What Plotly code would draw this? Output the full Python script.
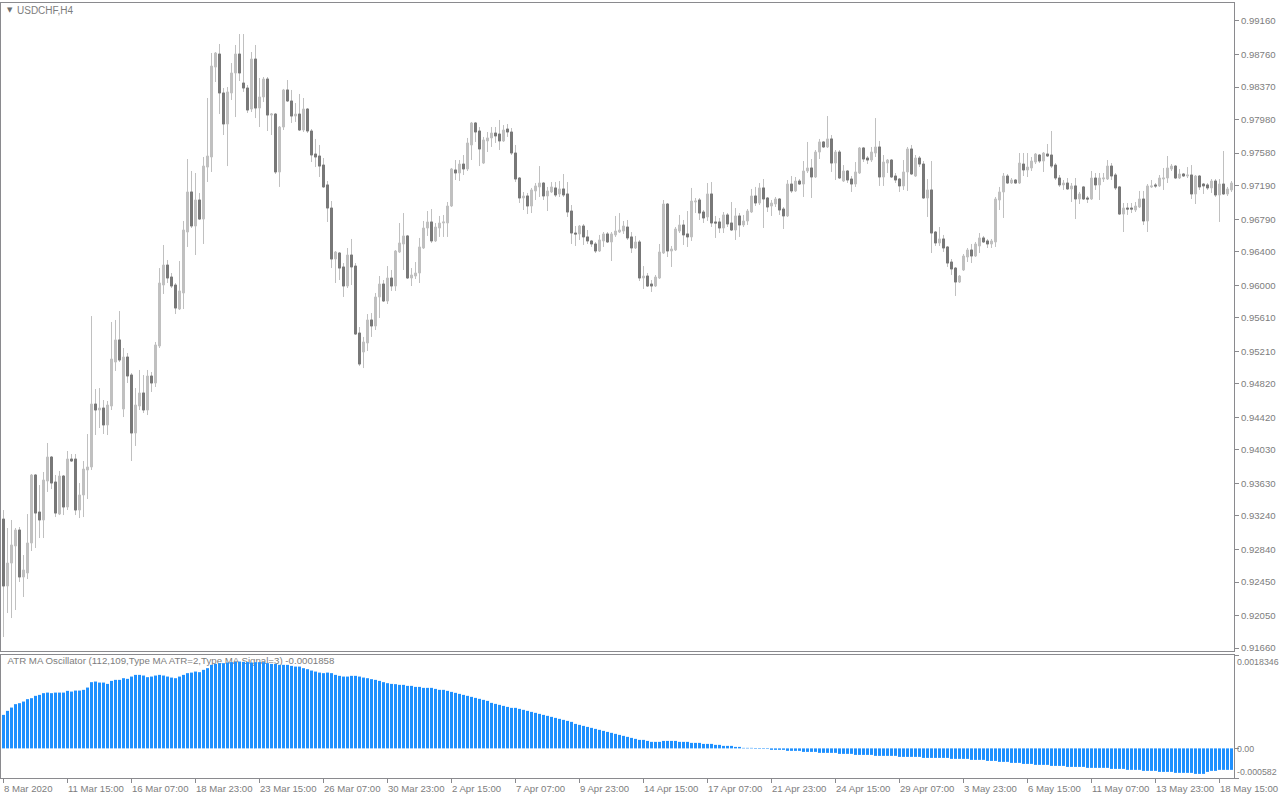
import plotly.graph_objects as go

symbol_title = "USDCHF,H4"
indicator_title = "ATR MA Oscillator (112,109,Type MA ATR=2,Type MA Signal=3) -0.0001858"

opens = [
0.93203,0.92402,0.92677,0.92881,0.93072,0.92510,0.92558,0.92917,0.93730,0.93287,
0.93192,0.93658,0.93945,0.93646,0.93263,0.93718,0.93347,0.93921,0.93921,0.93311,
0.93491,0.93790,0.93826,0.94579,0.94507,0.94531,0.94328,0.94555,0.95081,0.95345,
0.94519,0.95141,0.94926,0.94232,0.94555,0.94711,0.94507,0.94914,0.94830,0.95273,
0.96002,0.96241,0.96098,0.96002,0.95715,0.95907,0.96636,0.97115,0.96708,0.97019,
0.96791,0.97413,0.97533,0.98609,0.98765,0.98299,0.97928,0.98299,0.98538,0.98765,
0.98418,0.98358,0.98107,0.98705,0.98119,0.98251,0.98466,0.98035,0.98047,0.97354,
0.97892,0.98335,0.98203,0.98023,0.98047,0.97856,0.98107,0.97844,0.97569,0.97545,
0.97437,0.97199,0.96923,0.96313,0.96385,0.96218,0.95990,0.96361,0.96229,0.95428,
0.95201,0.95309,0.95584,0.95512,0.95859,0.96014,0.95811,0.96086,0.95990,0.96397,
0.96493,0.96589,0.96086,0.96110,0.96146,0.96445,0.96684,0.96756,0.96529,0.96684,
0.96744,0.96744,0.96947,0.97378,0.97342,0.97449,0.97390,0.97677,0.97940,0.97844,
0.97461,0.97725,0.97761,0.97820,0.97808,0.97725,0.97868,0.97832,0.97581,0.97282,
0.97043,0.97067,0.96947,0.97127,0.97175,0.97222,0.97067,0.97115,0.97163,0.97091,
0.97151,0.97091,0.96887,0.96624,0.96613,0.96708,0.96577,0.96529,0.96493,0.96409,
0.96529,0.96613,0.96517,0.96601,0.96636,0.96648,0.96696,0.96577,0.96445,0.96517,
0.96086,0.96110,0.96014,0.95990,0.96086,0.96385,0.96971,0.96409,0.96421,0.96648,
0.96720,0.96613,0.96577,0.96995,0.97019,0.96875,0.96816,0.97091,0.96756,0.96756,
0.96684,0.96840,0.96744,0.96660,0.96828,0.96720,0.96768,0.96875,0.97067,0.96983,
0.97163,0.97043,0.96947,0.96971,0.97031,0.96911,0.96828,0.97210,0.97127,0.97246,
0.97210,0.97366,0.97402,0.97294,0.97593,0.97713,0.97653,0.97749,0.97461,0.97593,
0.97246,0.97366,0.97270,0.97210,0.97342,0.97641,0.97521,0.97497,0.97581,0.97653,
0.97294,0.97461,0.97497,0.97306,0.97270,0.97187,0.97354,0.97629,0.97306,0.97521,
0.97449,0.97043,0.97139,0.96636,0.96505,0.96553,0.96457,0.96277,0.96205,0.96038,
0.96182,0.96337,0.96421,0.96349,0.96469,0.96565,0.96529,0.96493,0.96517,0.97019,
0.97115,0.97306,0.97222,0.97258,0.97222,0.97449,0.97378,0.97402,0.97473,0.97557,
0.97485,0.97569,0.97557,0.97437,0.97282,0.97199,0.97222,0.97151,0.97187,0.97031,
0.97175,0.97043,0.97031,0.97282,0.97199,0.97270,0.97270,0.97425,0.97318,0.97175,
0.96851,0.96923,0.96923,0.96899,0.96935,0.97031,0.96768,0.97175,0.97199,0.97187,
0.97270,0.97282,0.97390,0.97425,0.97282,0.97330,0.97306,0.97318,0.97091,0.97306,
0.97210,0.97199,0.97163,0.97246,0.97079,0.97210,0.97091,0.97139]

highs = [
0.93311,0.93096,0.93192,0.93096,0.93108,0.92773,0.93263,0.93742,0.93742,0.93610,
0.93766,0.94113,0.93957,0.93730,0.93778,0.93730,0.94017,0.93981,0.93981,0.93634,
0.93897,0.94220,0.95631,0.94758,0.94770,0.94627,0.94615,0.95560,0.95584,0.95691,
0.95249,0.95189,0.94950,0.94770,0.94986,0.94926,0.94986,0.94962,0.95321,0.96205,
0.96481,0.96301,0.96146,0.96026,0.96289,0.96768,0.97509,0.97366,0.97342,0.97103,
0.97533,0.98239,0.98777,0.98789,0.98885,0.98358,0.98370,0.98657,0.98873,0.99004,
0.99004,0.98394,0.98789,0.98873,0.98478,0.98490,0.98490,0.98059,0.98059,0.97904,
0.98347,0.98454,0.98335,0.98179,0.98287,0.98239,0.98119,0.97868,0.97749,0.97677,
0.97521,0.97246,0.97007,0.96409,0.96397,0.96265,0.96445,0.96553,0.96265,0.95500,
0.95381,0.95655,0.95667,0.95907,0.96110,0.96062,0.96229,0.96182,0.96421,0.96744,
0.96863,0.96601,0.96205,0.96277,0.96565,0.96768,0.96887,0.96911,0.96744,0.96828,
0.96840,0.96995,0.97402,0.97497,0.97497,0.97557,0.97761,0.97952,0.97952,0.97892,
0.97773,0.97832,0.97892,0.97892,0.97976,0.97916,0.97928,0.97880,0.97677,0.97294,
0.97115,0.97103,0.97163,0.97222,0.97425,0.97234,0.97175,0.97234,0.97234,0.97246,
0.97330,0.97234,0.96959,0.96708,0.96720,0.96732,0.96660,0.96541,0.96517,0.96601,
0.96636,0.96636,0.96636,0.96828,0.96863,0.96768,0.96780,0.96636,0.96589,0.96541,
0.96229,0.96146,0.96062,0.96122,0.96493,0.97019,0.96983,0.96469,0.96696,0.96840,
0.96780,0.96887,0.97163,0.97043,0.97043,0.96899,0.97222,0.97234,0.96828,0.96804,
0.96875,0.96863,0.96995,0.96923,0.96863,0.96840,0.96911,0.97151,0.97175,0.97222,
0.97270,0.97055,0.97019,0.97055,0.97043,0.96935,0.97258,0.97306,0.97294,0.97270,
0.97485,0.97713,0.97509,0.97617,0.97749,0.97725,0.98023,0.97796,0.97617,0.97617,
0.97437,0.97378,0.97306,0.97473,0.97653,0.97653,0.97545,0.97653,0.97999,0.97725,
0.97557,0.97509,0.97509,0.97342,0.97282,0.97497,0.97653,0.97677,0.97557,0.97545,
0.97485,0.97270,0.97485,0.96648,0.96696,0.96601,0.96469,0.96313,0.96218,0.96122,
0.96373,0.96445,0.96493,0.96517,0.96624,0.96589,0.96553,0.96553,0.97055,0.97175,
0.97342,0.97330,0.97282,0.97270,0.97581,0.97581,0.97581,0.97533,0.97581,0.97569,
0.97593,0.97689,0.97844,0.97461,0.97318,0.97258,0.97282,0.97222,0.97282,0.97115,
0.97187,0.97067,0.97366,0.97342,0.97342,0.97342,0.97497,0.97461,0.97342,0.97187,
0.96983,0.96983,0.96983,0.96995,0.97127,0.97127,0.97210,0.97258,0.97222,0.97318,
0.97402,0.97545,0.97449,0.97437,0.97390,0.97342,0.97413,0.97437,0.97318,0.97318,
0.97222,0.97222,0.97270,0.97270,0.97270,0.97605,0.97175,0.97246]

lows = [
0.91792,0.92079,0.92019,0.92115,0.92450,0.92271,0.92486,0.92821,0.92857,0.92976,
0.92976,0.93527,0.93562,0.93227,0.93251,0.93251,0.93311,0.93885,0.93251,0.93215,
0.93227,0.93443,0.93790,0.94208,0.94292,0.94220,0.94208,0.94507,0.94974,0.95081,
0.94423,0.94830,0.93897,0.94077,0.94507,0.94471,0.94447,0.94723,0.94782,0.95249,
0.95895,0.96026,0.95966,0.95655,0.95703,0.95715,0.96457,0.96684,0.96361,0.96780,
0.96493,0.97234,0.97354,0.98430,0.98047,0.97796,0.97425,0.98215,0.98011,0.98442,
0.98311,0.98059,0.98071,0.97999,0.97892,0.98191,0.97844,0.97796,0.97330,0.97175,
0.97856,0.98191,0.97940,0.97952,0.97844,0.97832,0.97820,0.97473,0.97413,0.97294,
0.97163,0.96756,0.96205,0.96026,0.96062,0.95859,0.95966,0.96002,0.95404,0.95033,
0.95009,0.95213,0.95381,0.95464,0.95608,0.95799,0.95775,0.95931,0.95931,0.96385,
0.96182,0.96074,0.95990,0.96074,0.96026,0.96433,0.96589,0.96505,0.96517,0.96577,
0.96577,0.96577,0.96935,0.97258,0.97246,0.97318,0.97366,0.97497,0.97713,0.97425,
0.97449,0.97593,0.97653,0.97701,0.97617,0.97713,0.97773,0.97557,0.97234,0.96983,
0.96899,0.96851,0.96863,0.97019,0.97055,0.97019,0.96887,0.97103,0.97055,0.97055,
0.97055,0.96816,0.96493,0.96469,0.96541,0.96481,0.96493,0.96457,0.96385,0.96397,
0.96457,0.96505,0.96289,0.96577,0.96624,0.96613,0.96541,0.96385,0.96433,0.96050,
0.95955,0.95978,0.95919,0.95978,0.96074,0.96373,0.96337,0.96218,0.96409,0.96624,
0.96481,0.96457,0.96529,0.96863,0.96780,0.96744,0.96768,0.96696,0.96565,0.96624,
0.96624,0.96696,0.96648,0.96541,0.96577,0.96696,0.96720,0.96863,0.96947,0.96959,
0.96684,0.96875,0.96828,0.96935,0.96840,0.96672,0.96816,0.97103,0.97115,0.97199,
0.97055,0.97342,0.97043,0.97282,0.97509,0.97641,0.97641,0.97354,0.97258,0.97270,
0.97234,0.97222,0.97115,0.97175,0.97330,0.97473,0.97449,0.97473,0.97533,0.97187,
0.97187,0.97342,0.97282,0.97222,0.97115,0.97139,0.97127,0.97318,0.97294,0.97413,
0.97031,0.96816,0.96385,0.96469,0.96469,0.96397,0.96218,0.96122,0.95871,0.96026,
0.96170,0.96277,0.96265,0.96337,0.96385,0.96505,0.96445,0.96445,0.96457,0.96899,
0.96804,0.97210,0.97210,0.97210,0.97210,0.97306,0.97294,0.97366,0.97449,0.97461,
0.97354,0.97533,0.97402,0.97258,0.97175,0.97139,0.97139,0.96995,0.96791,0.96971,
0.97019,0.96983,0.97019,0.97139,0.97019,0.97234,0.97258,0.97258,0.97139,0.96840,
0.96636,0.96840,0.96863,0.96875,0.96923,0.96720,0.96636,0.97163,0.97163,0.97175,
0.97139,0.97222,0.97366,0.97270,0.97270,0.97294,0.97282,0.97031,0.96971,0.97139,
0.97091,0.97139,0.97103,0.97055,0.96756,0.97079,0.97067,0.97115]

closes = [
0.92402,0.92677,0.92893,0.93072,0.92510,0.92594,0.92917,0.93730,0.93275,0.93192,
0.93670,0.93945,0.93634,0.93275,0.93718,0.93347,0.93921,0.93897,0.93311,0.93491,
0.93801,0.93826,0.94579,0.94507,0.94531,0.94328,0.94567,0.95117,0.95345,0.95105,
0.95141,0.94914,0.94232,0.94567,0.94711,0.94507,0.94914,0.94830,0.95285,0.96026,
0.96241,0.96086,0.95990,0.95727,0.95931,0.96660,0.97115,0.96708,0.97019,0.96791,
0.97425,0.97545,0.98621,0.98777,0.98299,0.97928,0.98311,0.98538,0.98765,0.98538,
0.98358,0.98095,0.98705,0.98119,0.98251,0.98466,0.98035,0.98047,0.97354,0.97892,
0.98335,0.98203,0.98023,0.98047,0.97856,0.98107,0.97844,0.97557,0.97533,0.97425,
0.97175,0.96923,0.96313,0.96397,0.96205,0.95990,0.96361,0.96218,0.95416,0.95057,
0.95321,0.95584,0.95512,0.95859,0.96014,0.95811,0.96086,0.95990,0.96409,0.96505,
0.96589,0.96086,0.96122,0.96146,0.96457,0.96684,0.96756,0.96529,0.96696,0.96744,
0.96756,0.96947,0.97390,0.97342,0.97449,0.97390,0.97701,0.97940,0.97832,0.97629,
0.97737,0.97761,0.97820,0.97785,0.97725,0.97856,0.97832,0.97581,0.97270,0.97043,
0.97067,0.96947,0.97139,0.97187,0.97222,0.97067,0.97127,0.97175,0.97079,0.97151,
0.97079,0.96875,0.96624,0.96613,0.96708,0.96577,0.96529,0.96493,0.96409,0.96541,
0.96613,0.96517,0.96613,0.96648,0.96660,0.96708,0.96565,0.96445,0.96517,0.96086,
0.96110,0.95990,0.95990,0.96098,0.96397,0.96971,0.96409,0.96433,0.96672,0.96720,
0.96601,0.96577,0.97007,0.97007,0.96863,0.96804,0.97091,0.96744,0.96744,0.96684,
0.96840,0.96732,0.96660,0.96828,0.96720,0.96768,0.96887,0.97067,0.96983,0.97163,
0.97031,0.96935,0.96983,0.97031,0.96899,0.96828,0.97210,0.97127,0.97246,0.97210,
0.97366,0.97402,0.97294,0.97593,0.97713,0.97653,0.97749,0.97461,0.97593,0.97282,
0.97366,0.97258,0.97210,0.97354,0.97641,0.97509,0.97497,0.97593,0.97653,0.97294,
0.97473,0.97497,0.97294,0.97258,0.97187,0.97354,0.97629,0.97330,0.97521,0.97449,
0.97043,0.97139,0.96624,0.96505,0.96553,0.96445,0.96265,0.96194,0.96038,0.96110,
0.96349,0.96421,0.96349,0.96493,0.96565,0.96517,0.96493,0.96529,0.97031,0.97115,
0.97306,0.97222,0.97258,0.97222,0.97461,0.97378,0.97413,0.97485,0.97569,0.97485,
0.97581,0.97545,0.97425,0.97282,0.97199,0.97222,0.97151,0.97187,0.97031,0.97091,
0.97031,0.97031,0.97282,0.97199,0.97282,0.97282,0.97425,0.97306,0.97163,0.96851,
0.96923,0.96911,0.96911,0.96947,0.97031,0.96768,0.97187,0.97187,0.97187,0.97282,
0.97282,0.97402,0.97425,0.97282,0.97330,0.97306,0.97318,0.97091,0.97306,0.97175,
0.97187,0.97163,0.97246,0.97079,0.97210,0.97091,0.97151,0.97222]

atr_osc = [
0.000658,0.000737,0.000802,0.000869,0.000888,0.000920,0.000967,0.000986,0.001032,0.001051,
0.001085,0.001096,0.001085,0.001096,0.001096,0.001096,0.001130,0.001116,0.001136,0.001136,
0.001150,0.001195,0.001301,0.001313,0.001293,0.001293,0.001267,0.001326,0.001346,0.001346,
0.001379,0.001366,0.001411,0.001444,0.001444,0.001431,0.001399,0.001411,0.001431,0.001444,
0.001431,0.001411,0.001391,0.001379,0.001411,0.001444,0.001478,0.001489,0.001509,0.001497,
0.001543,0.001576,0.001641,0.001660,0.001674,0.001674,0.001686,0.001694,0.001700,0.001706,
0.001700,0.001694,0.001686,0.001694,0.001694,0.001694,0.001674,0.001660,0.001660,0.001641,
0.001641,0.001641,0.001621,0.001607,0.001607,0.001576,0.001556,0.001529,0.001509,0.001489,
0.001478,0.001489,0.001478,0.001444,0.001425,0.001411,0.001411,0.001425,0.001425,0.001411,
0.001391,0.001379,0.001360,0.001346,0.001326,0.001301,0.001281,0.001267,0.001262,0.001248,
0.001248,0.001228,0.001228,0.001208,0.001208,0.001189,0.001189,0.001189,0.001169,0.001150,
0.001150,0.001130,0.001110,0.001091,0.001071,0.001051,0.001032,0.001012,0.000992,0.000973,
0.000953,0.000933,0.000894,0.000874,0.000855,0.000835,0.000815,0.000796,0.000796,0.000776,
0.000757,0.000737,0.000717,0.000698,0.000678,0.000658,0.000639,0.000619,0.000599,0.000580,
0.000560,0.000540,0.000521,0.000481,0.000462,0.000442,0.000422,0.000403,0.000383,0.000364,
0.000344,0.000324,0.000305,0.000285,0.000265,0.000246,0.000226,0.000206,0.000187,0.000167,
0.000167,0.000147,0.000128,0.000128,0.000128,0.000147,0.000147,0.000147,0.000147,0.000128,
0.000128,0.000128,0.000108,0.000108,0.000108,0.000088,0.000088,0.000088,0.000069,0.000069,
0.000049,0.000049,0.000049,0.000029,0.000029,0.000010,0.000010,0.000010,-0.000010,-0.000010,
-0.000010,-0.000010,-0.000029,-0.000029,-0.000029,-0.000029,-0.000049,-0.000049,-0.000049,-0.000049,
-0.000069,-0.000069,-0.000069,-0.000069,-0.000088,-0.000088,-0.000088,-0.000088,-0.000088,-0.000108,
-0.000108,-0.000108,-0.000108,-0.000128,-0.000128,-0.000128,-0.000128,-0.000128,-0.000147,-0.000147,
-0.000147,-0.000147,-0.000147,-0.000147,-0.000167,-0.000167,-0.000167,-0.000167,-0.000167,-0.000167,
-0.000187,-0.000187,-0.000187,-0.000187,-0.000187,-0.000187,-0.000187,-0.000206,-0.000206,-0.000206,
-0.000206,-0.000206,-0.000226,-0.000226,-0.000226,-0.000226,-0.000246,-0.000246,-0.000246,-0.000265,
-0.000265,-0.000265,-0.000285,-0.000285,-0.000285,-0.000305,-0.000305,-0.000305,-0.000324,-0.000324,
-0.000324,-0.000324,-0.000344,-0.000344,-0.000344,-0.000344,-0.000364,-0.000364,-0.000364,-0.000364,
-0.000364,-0.000383,-0.000383,-0.000383,-0.000383,-0.000383,-0.000383,-0.000403,-0.000403,-0.000403,
-0.000403,-0.000422,-0.000422,-0.000422,-0.000422,-0.000442,-0.000442,-0.000442,-0.000442,-0.000462,
-0.000462,-0.000462,-0.000462,-0.000481,-0.000481,-0.000481,-0.000481,-0.000481,-0.000501,-0.000501,
-0.000501,-0.000462,-0.000442,-0.000442,-0.000422,-0.000422,-0.000422,-0.000422]

price_ticks = [0.99160, 0.98760, 0.98370, 0.97980, 0.97580, 0.97190, 0.96790, 0.96400,
               0.96000, 0.95610, 0.95210, 0.94820, 0.94420, 0.94030, 0.93630, 0.93240,
               0.92840, 0.92450, 0.92050, 0.91660]
osc_ticks = [0.0018346, 0.0, -0.000582]
osc_tick_text = ["0.0018346", "0.00", "-0.000582"]
time_tick_text = ["8 Mar 2020", "11 Mar 15:00", "16 Mar 07:00", "18 Mar 23:00", "23 Mar 15:00",
                  "26 Mar 07:00", "30 Mar 23:00", "2 Apr 15:00", "7 Apr 07:00", "9 Apr 23:00",
                  "14 Apr 15:00", "17 Apr 07:00", "21 Apr 23:00", "24 Apr 15:00", "29 Apr 07:00",
                  "3 May 23:00", "6 May 15:00", "11 May 07:00", "13 May 23:00", "18 May 15:00"]
bars_per_label = 16

# ---------------- geometry / style ----------------
W, H = 1280, 800
ML, MR, MT, MB = 1, 46, 3, 22
PLOT_W = W - ML - MR
PLOT_H = H - MT - MB


def pyf(ypx):
    return (H - MB - ypx) / PLOT_H


def pxf(xpx):
    return (xpx - ML) / PLOT_W


FONT = "Liberation Sans, Arial, sans-serif"
TXT = "#7d7d7d"
LINE = "#8a8a8e"
LIGHT = "#c0c0c0"
DARK = "#787878"
BLUE = "#1e90ff"

n = len(opens)
x = list(range(n))
time_tick_idx = [k * bars_per_label for k in range(len(time_tick_text))]
xr = [-0.625, -0.625 + PLOT_W / 4.0]

is_down = [c < o for o, c in zip(opens, closes)]
d_open = [o if d else None for o, d in zip(opens, is_down)]
d_close = [c if d else None for c, d in zip(closes, is_down)]

fig = go.Figure()

# all candles: wicks + light bodies
fig.add_trace(go.Candlestick(
    x=x, open=opens, high=highs, low=lows, close=closes,
    increasing=dict(line=dict(color=LIGHT, width=1), fillcolor=LIGHT),
    decreasing=dict(line=dict(color=LIGHT, width=1), fillcolor=LIGHT),
    whiskerwidth=0, hoverinfo="skip", showlegend=False, xaxis="x", yaxis="y"))
# bearish bodies in dark gray (no wick)
fig.add_trace(go.Candlestick(
    x=x, open=d_open, high=d_open, low=d_close, close=d_close,
    increasing=dict(line=dict(color=DARK, width=1), fillcolor=DARK),
    decreasing=dict(line=dict(color=DARK, width=1), fillcolor=DARK),
    whiskerwidth=0, hoverinfo="skip", showlegend=False, xaxis="x", yaxis="y"))

# indicator label (drawn beneath the histogram)
fig.add_trace(go.Scatter(
    x=[1.0], y=[0.00170], mode="text", text=[indicator_title],
    textposition="middle right", textfont=dict(family=FONT, size=9.7, color=TXT),
    hoverinfo="skip", showlegend=False, cliponaxis=False, xaxis="x2", yaxis="y2"))

fig.add_trace(go.Bar(
    x=x, y=atr_osc, marker=dict(color=BLUE, line=dict(width=0)),
    hoverinfo="skip", showlegend=False, xaxis="x2", yaxis="y3"))

annotations = []
annotations.append(dict(text="▼", x=pxf(5), y=pyf(10), xref="paper", yref="paper",
                        xanchor="left", yanchor="middle", showarrow=False,
                        font=dict(family="DejaVu Sans", size=7, color="#6e6e6e")))
annotations.append(dict(text=symbol_title, x=pxf(15), y=pyf(10), xref="paper", yref="paper",
                        xanchor="left", yanchor="middle", showarrow=False,
                        font=dict(family=FONT, size=10, color=TXT)))
for idx, lab in zip(time_tick_idx, time_tick_text):
    annotations.append(dict(text=lab, x=idx - 0.5, y=pyf(788), xref="x2", yref="paper",
                            xanchor="left", yanchor="middle", showarrow=False,
                            font=dict(family=FONT, size=9.6, color=TXT)))
for ypos, lab in zip([662, 749, 772], osc_tick_text):
    annotations.append(dict(text=lab, x=pxf(1235), y=pyf(ypos), xref="paper", yref="paper",
                            xanchor="left", yanchor="middle", showarrow=False,
                            font=dict(family=FONT, size=8.8, color=TXT)))

axis_common = dict(showgrid=False, zeroline=False, showline=True, linecolor=LINE,
                   linewidth=1, mirror=True, fixedrange=True)

fig.update_layout(
    width=W, height=H,
    margin=dict(l=ML, r=MR, t=MT, b=MB, pad=0),
    paper_bgcolor="white", plot_bgcolor="white",
    hovermode=False, showlegend=False,
    boxgap=0.5, boxgroupgap=0, bargap=0.25,
    xaxis=dict(domain=[0, 1], range=xr, anchor="y", showticklabels=False, ticks="",
               rangeslider=dict(visible=False), **axis_common),
    yaxis=dict(domain=[pyf(651), 1], range=[0.91625, 0.99375], side="right", anchor="x",
               tickvals=price_ticks, ticktext=["%.5f" % v for v in price_ticks],
               ticks="outside", ticklen=4, tickcolor=LINE,
               tickfont=dict(family=FONT, size=9.6, color=TXT), **axis_common),
    xaxis2=dict(domain=[0, 1], range=xr, anchor="y2", tickvals=time_tick_idx,
                showticklabels=False, ticks="outside", ticklen=4, tickcolor=LINE,
                **axis_common),
    yaxis2=dict(domain=[0, pyf(655)], range=[-0.000582, 0.0018346], side="right", anchor="x2",
                tickvals=osc_ticks, showticklabels=False, ticks="outside", ticklen=4,
                tickcolor=LINE, **axis_common),
    yaxis3=dict(range=[-0.000582, 0.0018346], overlaying="y2", anchor="x2", side="right",
                visible=False, fixedrange=True),
    annotations=annotations,
)

fig.write_html(
    "out.html",
    config={"displayModeBar": False, "staticPlot": True},
    post_script="document.body.style.margin='0';document.body.style.overflow='hidden';",
)
